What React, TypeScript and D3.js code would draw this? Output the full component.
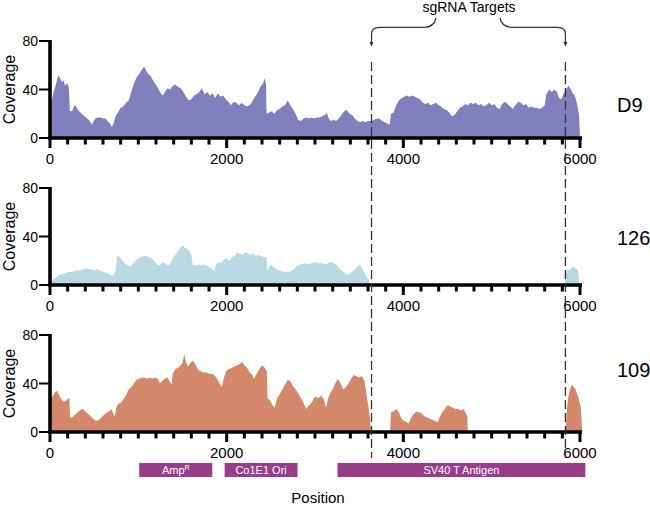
import React from "react";
import * as d3 from "d3";

// ---- data ----
const sampleNames = ["D9", "126", "109"];

const d9Coverage: [number, number][] = [
  [0,30],[20,31],[40,38],[60,42],[80,48],[95,52],[115,49],[135,46],[150,48],[170,43],[190,45],[205,44],[215,40],[225,22],[250,22],[270,26],[290,27],[310,24],[330,22],[360,20],[390,18],[420,16],[450,14],[475,11],[495,14],[515,16],[540,17],[570,17],[600,16],[630,16],[650,14],[680,12],[700,9],[720,12],[740,18],[770,21],[800,25],[830,26],[860,29],[890,31],[920,38],[950,45],[980,50],[1010,53],[1040,56],[1065,59],[1085,56],[1110,53],[1140,51],[1170,47],[1200,44],[1230,40],[1260,36],[1280,35],[1300,38],[1330,41],[1360,40],[1390,43],[1420,44],[1450,42],[1480,41],[1510,38],[1540,34],[1570,31],[1600,32],[1630,35],[1660,36],[1690,38],[1720,41],[1750,36],[1780,38],[1810,35],[1840,37],[1870,33],[1900,37],[1930,34],[1960,35],[1990,32],[2020,30],[2050,27],[2080,30],[2110,29],[2140,27],[2170,29],[2200,27],[2230,26],[2260,27],[2290,30],[2320,34],[2350,37],[2380,42],[2410,45],[2430,49],[2445,45],[2452,20],[2480,21],[2510,22],[2540,20],[2570,23],[2600,24],[2630,26],[2660,27],[2690,31],[2720,27],[2750,24],[2780,20],[2810,15],[2840,14],[2870,16],[2900,17],[2930,16],[2960,17],[2990,16],[3020,17],[3050,17],[3080,18],[3110,19],[3135,21],[3155,16],[3180,14],[3210,15],[3240,14],[3270,16],[3300,19],[3330,22],[3360,23],[3390,20],[3420,19],[3450,16],[3480,14],[3510,13],[3540,14],[3570,13],[3600,14],[3640,14],[3670,15],[3700,16],[3730,16],[3760,14],[3790,13],[3820,12],[3845,11],[3860,20],[3890,21],[3920,27],[3950,31],[3980,33],[4010,34],[4040,35],[4070,34],[4100,35],[4130,34],[4160,33],[4190,32],[4220,29],[4250,28],[4280,29],[4310,27],[4340,28],[4370,29],[4400,27],[4430,26],[4460,24],[4490,23],[4520,21],[4550,18],[4580,19],[4610,22],[4640,25],[4670,26],[4700,28],[4730,27],[4760,29],[4790,28],[4820,29],[4850,27],[4880,28],[4910,26],[4940,27],[4970,29],[5000,27],[5030,28],[5060,25],[5090,24],[5120,28],[5150,30],[5180,28],[5210,26],[5240,24],[5270,27],[5300,30],[5330,29],[5360,27],[5390,28],[5420,25],[5450,26],[5480,25],[5510,25],[5540,24],[5570,25],[5600,27],[5620,36],[5650,40],[5680,38],[5710,40],[5740,38],[5760,33],[5790,32],[5810,36],[5840,40],[5870,43],[5890,41],[5910,38],[5930,36],[5950,33],[5970,27],[5990,18],[6000,0]
];

const s126Coverage: [number, number][] = [
  [0,2],[30,4],[60,6],[100,8],[140,9],[180,10],[220,11],[260,11],[300,12],[340,12],[380,13],[410,14],[440,13],[470,13],[500,12],[530,13],[560,12],[600,11],[640,10],[670,9],[700,7],[730,9],[750,16],[760,24],[790,23],[820,20],[850,18],[880,16],[910,15],[940,18],[970,20],[1000,22],[1030,23],[1060,24],[1090,24],[1120,23],[1150,22],[1180,20],[1210,17],[1240,16],[1270,19],[1300,18],[1330,16],[1360,17],[1390,22],[1420,25],[1450,28],[1480,31],[1500,33],[1520,31],[1550,30],[1580,28],[1600,25],[1615,17],[1650,16],[1680,17],[1710,16],[1740,17],[1770,16],[1800,15],[1830,13],[1860,12],[1880,17],[1910,19],[1940,18],[1970,21],[2000,22],[2030,20],[2060,23],[2090,24],[2120,27],[2150,26],[2180,25],[2210,27],[2240,26],[2270,25],[2300,26],[2330,24],[2360,25],[2390,24],[2420,23],[2450,23],[2458,11],[2480,15],[2500,17],[2530,15],[2560,13],[2600,12],[2640,11],[2680,11],[2720,11],[2760,13],[2800,16],[2840,17],[2880,18],[2920,17],[2960,18],[3000,19],[3040,18],[3080,18],[3110,17],[3150,18],[3180,19],[3210,18],[3240,17],[3270,14],[3300,12],[3340,10],[3370,8],[3400,10],[3440,12],[3480,15],[3510,17],[3530,14],[3560,10],[3590,6],[3620,2],[3635,0],[5830,0],[5840,10],[5860,13],[5880,12],[5900,14],[5920,15],[5940,14],[5960,13],[5980,12],[5995,0]
];

const s109Coverage: [number, number][] = [
  [0,26],[20,28],[40,31],[60,33],[80,34],[100,31],[120,28],[140,26],[160,25],[180,26],[200,27],[220,28],[228,12],[250,12],[280,14],[310,16],[340,18],[370,19],[400,17],[430,15],[460,13],[490,11],[520,9],[550,10],[580,12],[610,14],[640,16],[670,17],[695,19],[720,14],[735,13],[750,20],[770,23],[800,24],[830,27],[860,30],[890,35],[920,37],[950,40],[980,43],[1010,44],[1040,45],[1070,45],[1100,44],[1130,45],[1160,44],[1190,45],[1220,44],[1245,40],[1270,42],[1300,44],[1330,45],[1360,41],[1375,39],[1390,48],[1420,52],[1450,53],[1480,55],[1500,57],[1520,64],[1540,58],[1560,54],[1590,57],[1620,59],[1650,55],[1680,51],[1710,50],[1740,49],[1770,49],[1800,48],[1830,48],[1860,47],[1890,44],[1920,40],[1945,37],[1970,45],[2000,51],[2030,52],[2060,53],[2090,54],[2120,55],[2150,56],[2170,58],[2200,55],[2230,53],[2260,49],[2290,47],[2310,44],[2340,48],[2370,52],[2400,55],[2430,53],[2455,50],[2462,28],[2490,26],[2520,22],[2545,20],[2570,28],[2600,31],[2630,35],[2660,39],[2690,43],[2720,42],[2750,38],[2780,35],[2810,32],[2840,28],[2870,24],[2900,19],[2930,22],[2960,24],[2990,28],[3010,29],[3040,28],[3070,30],[3100,27],[3125,20],[3150,28],[3170,32],[3200,35],[3230,40],[3260,44],[3290,40],[3320,35],[3350,37],[3380,40],[3410,44],[3440,47],[3470,46],[3500,45],[3530,46],[3560,42],[3585,30],[3605,21],[3625,10],[3635,0],[3850,0],[3860,16],[3890,17],[3920,19],[3950,16],[3980,11],[4010,9],[4040,8],[4060,7],[4090,12],[4120,15],[4150,17],[4180,16],[4210,15],[4240,13],[4270,12],[4300,11],[4330,10],[4360,9],[4390,8],[4410,12],[4440,16],[4470,19],[4500,22],[4530,21],[4560,20],[4590,19],[4620,19],[4650,18],[4680,19],[4710,15],[4725,13],[4730,0],[5838,0],[5850,18],[5870,30],[5890,36],[5910,39],[5930,37],[5950,35],[5970,31],[5990,26],[6010,20],[6025,0]
];

const coverageSeries = [d9Coverage, s126Coverage, s109Coverage];
const seriesColors = ["#8080bc", "#b9dae4", "#d4886a"];

const xTickValues = d3.range(0, 6001, 200);
const xMajorTicks = [0, 2000, 4000, 6000];
const yTickValues = [0, 40, 80];
const sgRNATargets = [3640, 5835];

const geneNames = ["Amp", "Co1E1 Ori", "SV40 T Antigen"];
const geneSup = ["R", "", ""];
const geneStarts = [1010, 1977, 3255];
const geneEnds = [1837, 2802, 6060];

// ---- layout ----
const W = 650;
const H = 509;
const FONT = "'Liberation Sans', Arial, Helvetica, sans-serif";
const panelBase = [138, 285, 432];
const panelHeight = 97;
const labelBaseline = [111.5, 244.5, 376.5];

export default function App() {
  const x = d3.scaleLinear().domain([0, 6000]).range([50, 580]);

  return (
    <svg
      width={W}
      height={H}
      style={{ position: "absolute", left: 0, top: 0, background: "#fff" }}
      fontFamily={FONT}
    >
      {coverageSeries.map((data, i) => {
        const base = panelBase[i];
        const y = d3.scaleLinear().domain([0, 80]).range([base, base - panelHeight]);
        const area = d3
          .area<[number, number]>()
          .x((d) => x(d[0]))
          .y0(y(0))
          .y1((d) => y(d[1]));
        return (
          <g key={i}>
            <path d={area(data) || ""} fill={seriesColors[i]} />
            {/* y axis */}
            <line x1={50} x2={50} y1={y(80) - 1} y2={base + 1.5} stroke="#000" strokeWidth={3.6} />
            {yTickValues.map((t) => (
              <g key={t}>
                <line x1={39} x2={50} y1={y(t)} y2={y(t)} stroke="#000" strokeWidth={2} />
                <text x={38} y={y(t)} dy="0.36em" textAnchor="end" fontSize={14}>
                  {t}
                </text>
              </g>
            ))}
            <text
              transform={`translate(15,${(y(0) + y(80)) / 2}) rotate(-90)`}
              textAnchor="middle"
              fontSize={16}
            >
              Coverage
            </text>
            {/* x axis */}
            <line x1={48.2} x2={582} y1={base} y2={base} stroke="#000" strokeWidth={3.6} />
            {xTickValues.map((t) => {
              const major = xMajorTicks.includes(t);
              return (
                <line
                  key={t}
                  x1={x(t)}
                  x2={x(t)}
                  y1={base}
                  y2={base + (major ? 10 : 6.5)}
                  stroke="#000"
                  strokeWidth={3}
                />
              );
            })}
            {xMajorTicks.map((t) => (
              <text key={t} x={x(t)} y={base + 26} textAnchor="middle" fontSize={15}>
                {t}
              </text>
            ))}
            <text x={617} y={labelBaseline[i]} fontSize={20}>
              {sampleNames[i]}
            </text>
          </g>
        );
      })}

      {/* sgRNA target lines */}
      {sgRNATargets.map((t) => (
        <line
          key={t}
          x1={x(t)}
          x2={x(t)}
          y1={62}
          y2={458}
          stroke="#333"
          strokeWidth={1.3}
          strokeDasharray="9,4"
        />
      ))}

      {/* brace */}
      {(() => {
        const xl = x(sgRNATargets[0]);
        const xr = x(sgRNATargets[1]);
        const yb = 27.3;
        const left = `M${xl},44 L${xl},34 Q${xl},${yb} ${xl + 8},${yb} L${424},${yb} Q${434},${yb} ${436},18`;
        const right = `M500,18 Q502,${yb} ${512},${yb} L${xr - 8},${yb} Q${xr},${yb} ${xr},34 L${xr},44`;
        return (
          <g>
            <path d={left} fill="none" stroke="#333" strokeWidth={1.2} />
            <path d={right} fill="none" stroke="#333" strokeWidth={1.2} />
            <path d={`M${xl - 2},42 L${xl + 2},42 L${xl},46.5 Z`} fill="#333" />
            <path d={`M${xr - 2},42 L${xr + 2},42 L${xr},46.5 Z`} fill="#333" />
            <text x={469} y={11.5} textAnchor="middle" fontSize={14}>
              sgRNA Targets
            </text>
          </g>
        );
      })()}

      {/* gene annotations */}
      {geneNames.map((name, i) => {
        const x0 = x(geneStarts[i]);
        const x1 = x(geneEnds[i]);
        return (
          <g key={name}>
            <rect x={x0} y={463} width={x1 - x0} height={14} fill="#9b3b8c" />
            <text x={(x0 + x1) / 2} y={474} textAnchor="middle" fontSize={11} fill="#fff">
              {name}
              {geneSup[i] ? (
                <tspan fontSize={7} dy={-4}>
                  {geneSup[i]}
                </tspan>
              ) : null}
            </text>
          </g>
        );
      })}

      <text x={318} y={503} textAnchor="middle" fontSize={15}>
        Position
      </text>
    </svg>
  );
}
